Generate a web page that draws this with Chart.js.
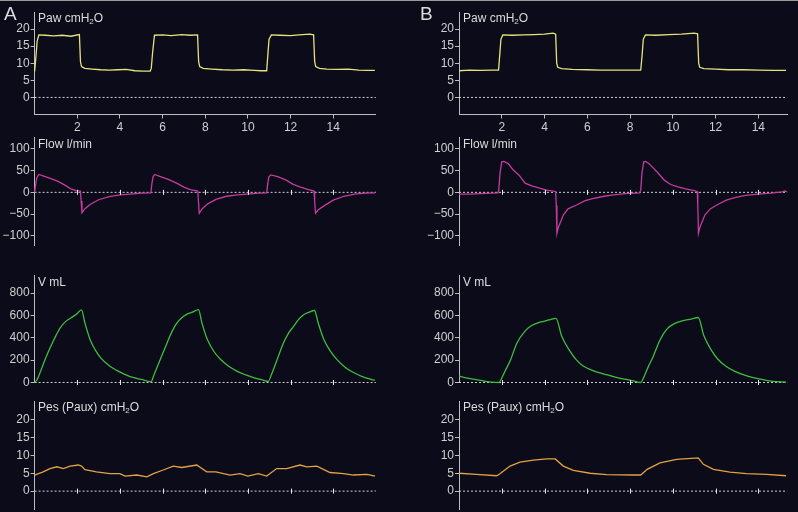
<!DOCTYPE html>
<html>
<head>
<meta charset="utf-8">
<script src="https://cdn.jsdelivr.net/npm/chart.js@4.4.1/dist/chart.umd.min.js"></script>
<style>
  html, body { margin: 0; padding: 0; }
  body { width: 798px; height: 512px; background: #0b0b19; position: relative; overflow: hidden; }
  canvas { position: absolute; }
  .topline { position: absolute; left: 0; top: 0; width: 798px; height: 1px; background: #9a9a9a; }
  .lbl { position: absolute; color: #dcdcdc; font: 12px "Liberation Sans", Arial, sans-serif; white-space: nowrap; line-height: 14px; z-index: 2; }
  .lbl sub { font-size: 8px; vertical-align: -2px; line-height: 0; }
  .big { font-size: 19px; line-height: 20px; }
</style>
</head>
<body>
<div class="topline"></div>
<div class="lbl big" style="left:4px;top:4px">A</div>
<div class="lbl big" style="left:420px;top:4px">B</div>
<div class="lbl" style="left:38px;top:11px">Paw cmH<sub>2</sub>O</div>
<div class="lbl" style="left:463px;top:11px">Paw cmH<sub>2</sub>O</div>
<div class="lbl" style="left:38px;top:137px">Flow l/min</div>
<div class="lbl" style="left:463px;top:137px">Flow l/min</div>
<div class="lbl" style="left:38px;top:275px">V mL</div>
<div class="lbl" style="left:463px;top:275px">V mL</div>
<div class="lbl" style="left:38px;top:400px">Pes (Paux) cmH<sub>2</sub>O</div>
<div class="lbl" style="left:463px;top:400px">Pes (Paux) cmH<sub>2</sub>O</div>

<canvas id="pawA"></canvas><canvas id="pawB"></canvas>
<canvas id="flowA"></canvas><canvas id="flowB"></canvas>
<canvas id="volA"></canvas><canvas id="volB"></canvas>
<canvas id="pesA"></canvas><canvas id="pesB"></canvas>

<script>
// tick labels
const timeTicks = [2, 4, 6, 8, 10, 12, 14];
const pawTicks = [0, 5, 10, 15, 20];
const flowTicks = [-100, -50, 0, 50, 100];
const volTicks = [0, 200, 400, 600, 800];
const pesTicks = [0, 5, 10, 15, 20];

// traces, [time s, value]
const pawA = [[0,7.6],[0.05,11],[0.12,16.5],[0.2,18.3],[0.5,18.2],[0.9,18.0],[1.3,18.2],[1.7,17.9],[2.1,18.4],[2.15,10.5],[2.2,9.0],[2.35,8.5],[2.7,8.3],[3.1,8.1],[3.5,8.0],[3.9,8.1],[4.3,8.2],[4.7,7.8],[5.1,7.7],[5.42,7.7],[5.47,8.5],[5.53,13],[5.62,18.2],[6.0,18.3],[6.4,18.1],[6.9,18.4],[7.3,18.2],[7.64,18.3],[7.69,10.5],[7.74,9.0],[7.9,8.5],[8.3,8.3],[8.8,8.1],[9.3,8.0],[9.8,8.1],[10.3,7.9],[10.6,7.8],[10.88,7.8],[10.93,12],[10.99,17],[11.1,18.3],[11.5,18.2],[12.0,18.1],[12.4,18.3],[12.9,18.5],[13.08,18.3],[13.13,10.5],[13.18,9.0],[13.35,8.5],[13.7,8.3],[14.2,8.2],[14.7,8.3],[15.2,8.0],[15.6,7.9],[15.95,7.9]];
const pawB = [[0,7.8],[0.5,8.0],[1.0,7.9],[1.5,8.0],[1.85,8.0],[1.9,12],[1.96,17],[2.05,18.3],[2.5,18.2],[3.0,18.3],[3.5,18.4],[4.0,18.5],[4.4,18.8],[4.52,18.5],[4.57,10],[4.62,8.8],[4.8,8.4],[5.3,8.2],[6.0,8.1],[6.6,8.0],[7.2,8.0],[7.8,8.0],[8.5,8.0],[8.56,12],[8.62,17],[8.72,18.3],[9.2,18.2],[9.8,18.4],[10.4,18.5],[11.0,18.8],[11.16,18.6],[11.21,10],[11.26,8.8],[11.45,8.4],[12.0,8.3],[12.6,8.1],[13.3,8.1],[14.0,8.0],[14.7,7.9],[15.3,7.9]];

const flowA = [[0,0],[0.04,15],[0.1,33],[0.2,41],[0.5,36],[0.8,31],[1.1,25],[1.4,17],[1.7,8],[1.95,4],[2.15,3],[2.18,-20],[2.22,-47],[2.35,-38],[2.6,-28],[3.0,-17],[3.5,-10],[4.0,-6],[4.5,-4],[5.0,-2],[5.45,-1],[5.5,20],[5.55,35],[5.63,41],[5.9,36],[6.3,29],[6.7,20],[7.0,12],[7.3,6],[7.65,3],[7.68,-20],[7.72,-48],[7.85,-38],[8.1,-27],[8.5,-16],[9.0,-9],[9.5,-6],[10.0,-4],[10.5,-2],[10.88,-1],[10.93,20],[10.98,35],[11.07,40],[11.4,36],[11.8,28],[12.1,19],[12.4,13],[12.8,7],[13.1,3],[13.13,-20],[13.17,-48],[13.3,-40],[13.6,-30],[14.0,-18],[14.5,-9],[15.0,-4],[15.5,-2],[15.95,-1]];
const flowB = [[0,-4],[0.5,-4],[1.0,-3],[1.5,-2],[1.82,-1],[1.86,5],[1.92,45],[2.0,70],[2.1,71],[2.3,66],[2.54,51],[2.8,40],[3.09,21],[3.4,15],[3.8,9],[4.1,5],[4.4,3],[4.52,2],[4.55,-30],[4.58,-94],[4.65,-80],[4.88,-52],[5.1,-38],[5.5,-29],[5.9,-19],[6.3,-14],[6.8,-9],[7.2,-6],[7.8,-3],[8.45,-1],[8.5,5],[8.56,45],[8.64,70],[8.72,71],[8.9,65],[9.1,55],[9.3,45],[9.6,28],[9.9,18],[10.2,13],[10.6,8],[11.0,4],[11.14,2],[11.17,-30],[11.2,-94],[11.27,-80],[11.5,-52],[11.75,-38],[12.1,-28],[12.5,-18],[12.9,-12],[13.4,-7],[14.0,-4],[14.6,-2],[15.1,1],[15.25,3],[15.33,1]];

const volA = [[0,0],[0.1,20],[0.3,110],[0.5,210],[0.75,320],[1.0,420],[1.2,490],[1.45,545],[1.7,578],[1.95,610],[2.2,650],[2.35,540],[2.6,385],[2.85,290],[3.1,220],[3.5,150],[3.85,108],[4.2,75],[4.6,45],[5.0,28],[5.46,8],[5.6,70],[5.9,210],[6.2,350],[6.45,460],[6.66,530],[6.9,580],[7.13,610],[7.4,630],[7.68,652],[7.85,530],[8.1,385],[8.4,280],[8.7,210],[9.1,145],[9.5,100],[9.9,68],[10.3,42],[10.7,22],[10.95,10],[11.1,70],[11.4,220],[11.66,351],[11.9,440],[12.13,500],[12.4,570],[12.6,605],[12.85,628],[13.12,645],[13.3,530],[13.55,390],[13.85,285],[14.2,200],[14.6,130],[15.0,85],[15.4,50],[15.7,32],[15.95,18]];
const volB = [[0,57],[0.4,40],[0.8,25],[1.2,12],[1.5,4],[1.87,0],[2.0,40],[2.2,120],[2.42,207],[2.7,350],[3.09,460],[3.4,510],[3.79,540],[4.2,560],[4.54,575],[4.8,416],[5.19,281],[5.5,200],[5.81,147],[6.3,105],[6.9,70],[7.5,40],[8.15,15],[8.5,0],[8.65,50],[8.85,140],[9.09,236],[9.4,380],[9.71,476],[10.1,530],[10.49,555],[10.85,568],[11.19,582],[11.45,420],[11.8,290],[12.1,210],[12.45,150],[12.9,100],[13.5,58],[14.1,30],[14.7,10],[15.3,3]];

const pesA = [[0,4.5],[0.4,5.4],[0.72,6.3],[1.04,6.8],[1.35,6.3],[1.66,7.0],[2.05,7.3],[2.2,7.0],[2.36,6.0],[2.9,5.4],[3.53,4.9],[4.0,4.9],[4.24,4.2],[4.79,4.5],[5.26,4.0],[5.57,4.9],[6.03,5.9],[6.5,7.0],[6.9,6.6],[7.6,7.3],[8.07,5.4],[8.5,5.4],[9.16,4.5],[9.63,4.9],[10.0,4.2],[10.49,4.9],[10.88,4.2],[11.35,6.3],[11.82,6.3],[12.44,7.3],[12.76,6.8],[13.23,7.0],[13.85,5.2],[14.48,4.9],[14.95,4.5],[15.58,4.7],[15.96,4.2]];
const pesB = [[0,5.0],[0.8,4.7],[1.76,4.3],[1.9,4.8],[2.39,7.0],[2.85,8.1],[3.48,8.65],[4.1,9.0],[4.5,9.0],[4.88,7.0],[5.35,5.8],[6.13,5.0],[6.9,4.6],[8.15,4.5],[8.5,4.5],[8.8,6.1],[9.4,7.9],[10.18,8.85],[11.19,9.3],[11.43,7.5],[11.9,6.1],[12.67,5.3],[13.45,4.9],[14.38,4.7],[15.3,4.3]];

Chart.defaults.font.family = '"Liberation Sans", Arial, sans-serif';
Chart.defaults.font.size = 12;
Chart.defaults.color = '#c8c8c8';

// small crosses on the zero line at every time tick
const zeroTicks = {
  id: 'zeroTicks',
  afterDatasetsDraw(chart, args, opts) {
    if (!opts.show) return;
    const { ctx, scales: { x, y } } = chart;
    const y0 = y.getPixelForValue(0);
    ctx.save();
    ctx.strokeStyle = '#e6e6e6';
    ctx.lineWidth = 1;
    timeTicks.forEach(t => {
      const px = Math.round(x.getPixelForValue(t)) + 0.5;
      ctx.beginPath();
      ctx.moveTo(px, y0 - 2.5);
      ctx.lineTo(px, y0 + 2.5);
      ctx.stroke();
    });
    ctx.restore();
  }
};

const columns = {
  A: { left: 0, width: 380, axisX: 34.6, xMax: 16 },
  B: { left: 420, width: 372, axisX: 459, xMax: 15.35 }
};
const pxPerSec = { A: 21.33, B: 21.38 };

function makePanel(id, col, row, points, color, smooth) {
  const c = columns[col];
  const canvas = document.getElementById(id);
  canvas.width = c.width;
  canvas.height = row.height;
  canvas.style.left = c.left + 'px';
  canvas.style.top = row.top + 'px';
  const rightEdge = c.axisX + c.xMax * pxPerSec[col];
  const xAxisH = row.xAxis ? row.height - (row.areaBottom - row.top) : 0;

  new Chart(canvas, {
    type: 'line',
    data: {
      datasets: [{
        data: points.map(p => ({ x: p[0], y: p[1] })),
        borderColor: color,
        borderWidth: 1.3,
        pointRadius: 0,
        cubicInterpolationMode: smooth ? 'monotone' : 'default',
        tension: 0,
        clip: false
      }, {
        data: [{ x: 0, y: 0 }, { x: c.xMax, y: 0 }],
        borderColor: '#cfcfcf',
        borderWidth: 1,
        borderDash: [2, 2],
        pointRadius: 0,
        clip: false
      }]
    },
    options: {
      responsive: false,
      animation: false,
      events: [],
      layout: {
        padding: {
          left: 0,
          right: c.width - (rightEdge - c.left),
          top: row.areaTop - row.top,
          bottom: row.xAxis ? 0 : row.height - (row.areaBottom - row.top)
        }
      },
      scales: {
        x: {
          type: 'linear',
          min: 0,
          max: c.xMax,
          display: !!row.xAxis,
          afterBuildTicks: s => { s.ticks = timeTicks.map(v => ({ value: v })); },
          afterFit: s => { s.height = xAxisH; s.paddingLeft = 0; s.paddingRight = 0; },
          grid: { drawOnChartArea: false, drawTicks: true, tickLength: 4, tickColor: '#bdbdbd' },
          border: { display: true, color: '#bdbdbd', width: 1 },
          ticks: { padding: 2, color: '#cfcfcf', maxRotation: 0 }
        },
        y: {
          min: row.min,
          max: row.max,
          afterBuildTicks: s => { s.ticks = row.ticks.map(v => ({ value: v })); },
          afterFit: s => { s.width = c.axisX - c.left; s.paddingTop = 0; s.paddingBottom = 0; },
          grid: { drawOnChartArea: false, drawTicks: true, tickLength: 4, tickColor: '#bdbdbd' },
          border: { display: true, color: '#bdbdbd', width: 1 },
          ticks: {
            padding: 1,
            color: '#cfcfcf',
            callback: v => String(v).replace('-', '\u2212')
          }
        }
      },
      plugins: {
        legend: { display: false },
        tooltip: { enabled: false },
        zeroTicks: { show: !row.xAxis }
      }
    },
    plugins: [zeroTicks]
  });
}

const rows = {
  paw:  { top: 0,   height: 135, areaTop: 12,    areaBottom: 114.5, min: -5,   max: 25,  ticks: pawTicks, xAxis: true },
  flow: { top: 130, height: 120, areaTop: 137,   areaBottom: 245.5, min: -122, max: 127, ticks: flowTicks },
  vol:  { top: 262, height: 125, areaTop: 275.3, areaBottom: 382.5, min: 0,    max: 960, ticks: volTicks },
  pes:  { top: 392, height: 120, areaTop: 401.7, areaBottom: 509,   min: -5,   max: 25,  ticks: pesTicks }
};

makePanel('pawA', 'A', rows.paw, pawA, '#e4e47c', false);
makePanel('pawB', 'B', rows.paw, pawB, '#e4e47c', false);
makePanel('flowA', 'A', rows.flow, flowA, '#c43c9c', false);
makePanel('flowB', 'B', rows.flow, flowB, '#c43c9c', false);
makePanel('volA', 'A', rows.vol, volA, '#3fbd3f', true);
makePanel('volB', 'B', rows.vol, volB, '#3fbd3f', true);
makePanel('pesA', 'A', rows.pes, pesA, '#e2a244', false);
makePanel('pesB', 'B', rows.pes, pesB, '#e2a244', false);
</script>
</body>
</html>
